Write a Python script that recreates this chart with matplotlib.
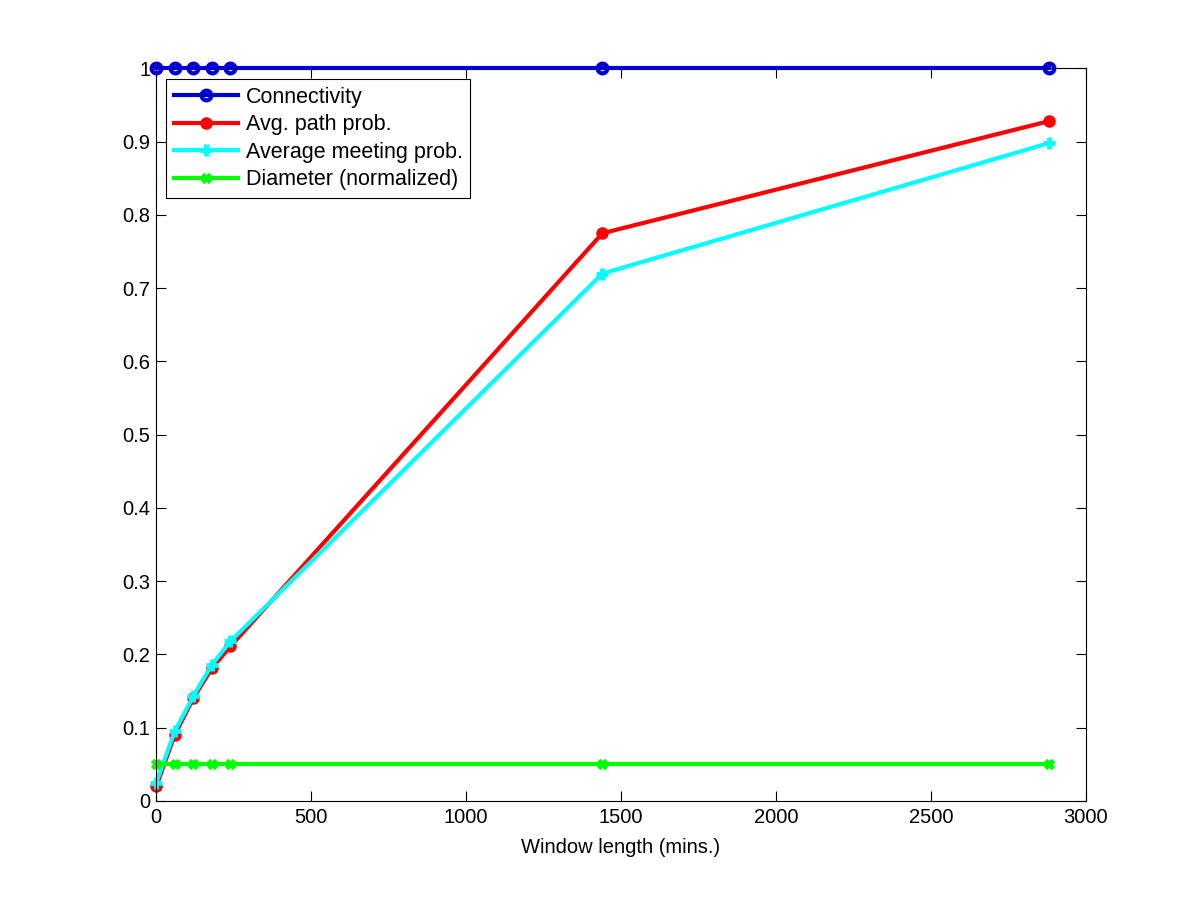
import matplotlib
matplotlib.use("Agg")
import matplotlib.pyplot as plt

plt.rcParams["font.family"] = ["Liberation Sans", "DejaVu Sans"]

window = [1, 60, 120, 180, 240, 1440, 2880]
connectivity = [1, 1, 1, 1, 1, 1, 1]
avg_path = [0.02, 0.09, 0.14, 0.181, 0.211, 0.775, 0.928]
avg_meeting = [0.025, 0.095, 0.143, 0.186, 0.218, 0.72, 0.898]
diameter = [0.05, 0.05, 0.05, 0.05, 0.05, 0.05, 0.05]

fig = plt.figure(figsize=(12, 9), dpi=100)
ax = fig.add_axes([0.13, 0.11, 0.775, 0.814])

lw = 3
ax.plot(window, connectivity, color="#0000d0", lw=lw, marker="o", ms=7,
        mfc="none", mew=3, label="Connectivity", clip_on=False, zorder=5)
ax.plot(window, avg_path, color="#ff0000", lw=lw, marker="o", ms=7,
        mfc="#ff0000", mew=2, label="Avg. path prob.", clip_on=False)
ax.plot(window, avg_meeting, color="#00ffff", lw=lw, marker="+", ms=9,
        mew=3.5, label="Average meeting prob.", clip_on=False)
ax.plot(window, diameter, color="#00ff00", lw=lw, marker="x", ms=6,
        mew=3.5, label="Diameter (normalized)", clip_on=False)

ax.set_xlim(0, 3000)
ax.set_ylim(0, 1)
ax.set_xticks([0, 500, 1000, 1500, 2000, 2500, 3000])
ax.set_yticks([i / 10 for i in range(11)])
ax.set_yticklabels(["0", "0.1", "0.2", "0.3", "0.4", "0.5", "0.6", "0.7",
                    "0.8", "0.9", "1"])
ax.tick_params(direction="in", top=True, right=True, length=7,
               labelsize=14.5, width=0.8)
ax.tick_params(axis="x", pad=5)
ax.tick_params(axis="y", pad=4)
ax.set_xlabel("Window length (mins.)", fontsize=14.5, labelpad=8)

leg = ax.legend(loc="upper left", bbox_to_anchor=(0.011, 0.985), fontsize=15.5,
                fancybox=False, edgecolor="black", framealpha=1,
                handlelength=3.0, borderpad=0.35, labelspacing=0.3,
                handletextpad=0.35, borderaxespad=0)
leg.get_frame().set_linewidth(0.8)

fig.savefig("out.png", dpi=100)
